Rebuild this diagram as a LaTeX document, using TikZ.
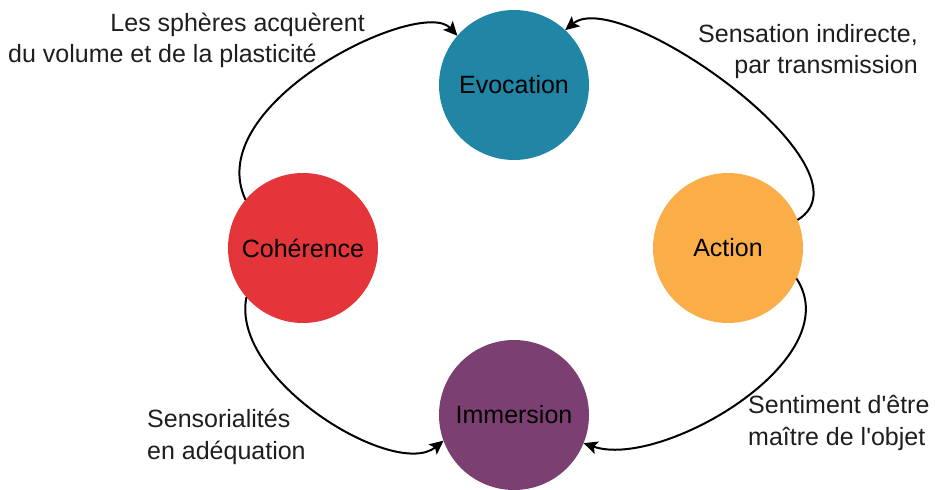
\documentclass[tikz,border=0pt]{standalone}
\usepackage{fontspec}
\setmainfont{Liberation Sans}
\usetikzlibrary{arrows.meta}
\definecolor{evoc}{RGB}{33,133,166}
\definecolor{cohe}{RGB}{228,54,58}
\definecolor{acti}{RGB}{251,174,72}
\definecolor{imme}{RGB}{123,64,113}
\definecolor{labtxt}{RGB}{30,30,30}
\tikzset{
  sphere/.style={circle, minimum size=150pt, inner sep=0pt, outer sep=0pt,
    text=black, font=\fontsize{25}{30}\selectfont},
  lab/.style={inner sep=0pt, text=labtxt, font=\fontsize{25}{30}\selectfont},
  link/.style={line width=2pt, draw=black, -{Stealth[length=14pt,width=13pt,inset=3pt,fill=black]}}
}
\begin{document}
\begin{tikzpicture}[x=1pt,y=-1pt]
\useasboundingbox (0,0) rectangle (935,490);
\node[sphere, fill=evoc] (evo) at (514,85) {Evocation};
\node[sphere, fill=cohe] (coh) at (303,248) {Cohérence};
\node[sphere, fill=acti] (act) at (728,248) {Action};
\node[sphere, fill=imme] (imm) at (514,415) {Immersion};

\draw[link] (coh.140) .. controls (200,103) and (421,-4) .. (evo.139);
\draw[link] (act.22) .. controls (880,170) and (620,-15) .. (evo.47);
\draw[link] (coh.221) .. controls (230,380) and (395,480) .. (imm.200);
\draw[link] (act.336) .. controls (850,360) and (660,470) .. (imm.338);

\node[lab, anchor=base east] (l1a) at (365,31) {Les sphères acquèrent};
\node[lab, anchor=base west] (l1b) at (8,62) {du volume et de la plasticité};
\node[lab, anchor=base east] (l2a) at (918,42) {Sensation indirecte,};
\node[lab, anchor=base east] (l2b) at (918,73) {par transmission};
\node[lab, anchor=base west] (l3a) at (147,427) {Sensorialités};
\node[lab, anchor=base west] (l3b) at (147,459) {en adéquation};
\node[lab, anchor=base west] (l4a) at (748,413) {Sentiment d\textquotesingle être};
\node[lab, anchor=base west] (l4b) at (748,445) {maître de l\textquotesingle objet};
\end{tikzpicture}
\end{document}
